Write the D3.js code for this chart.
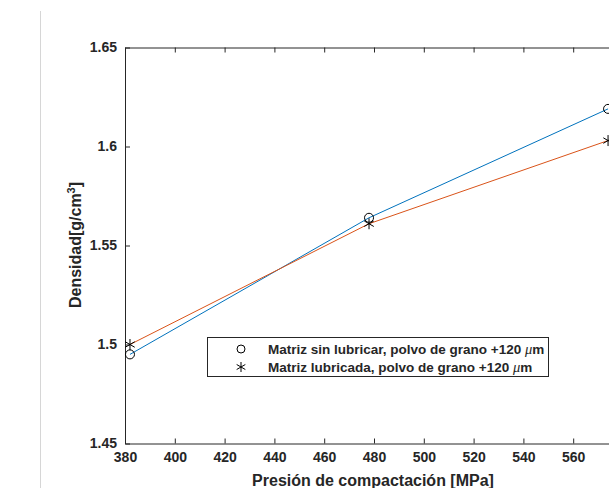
<!DOCTYPE html>
<html>
<head>
<meta charset="utf-8">
<script src="https://cdn.jsdelivr.net/npm/d3@7"></script>
<style>
  body { margin: 0; background: #fff; overflow: hidden; }
  svg { display: block; }
  text { font-family: "Liberation Sans", Arial, sans-serif; font-weight: bold; fill: #262626; }
</style>
</head>
<body>
<svg id="chart" width="609" height="488"></svg>
<script>
// pressures (MPa) and densities
const pressures = [382, 478, 574];
const densSinLub = [1.495, 1.564, 1.619];
const densLub = [1.500, 1.561, 1.603];
const xTicks = [380, 400, 420, 440, 460, 480, 500, 520, 540, 560];
const yTicks = [1.45, 1.5, 1.55, 1.6, 1.65];
const legendLabels = ["Matriz sin lubricar, polvo de grano +120 ", "Matriz lubricada, polvo de grano +120 "];

var svg = d3.select("#chart");

// the grey line at the left of the figure window
svg.append("line")
  .attr("x1", 40.5).attr("x2", 40.5)
  .attr("y1", 11).attr("y2", 488)
  .attr("stroke", "#d6d6d6");

// xlim runs to 580, which falls just past the right edge of the window
var x = d3.scaleLinear().domain([380, 580]).range([125, 623]);
var y = d3.scaleLinear().domain([1.45, 1.65]).range([443.5, 47.5]);

var axisColor = "#262626";

// bottom axis
var xAxis = svg.append("g")
  .attr("transform", "translate(0,443.5)")
  .call(d3.axisBottom(x).tickValues(xTicks).tickSizeInner(-5).tickSizeOuter(0).tickPadding(10).tickFormat(d3.format("d")));
// top axis (box)
var xTop = svg.append("g")
  .attr("transform", "translate(0,47.5)")
  .call(d3.axisTop(x).tickValues(xTicks).tickSizeInner(-5).tickSizeOuter(0).tickFormat(""));
// left axis
var yAxis = svg.append("g")
  .attr("transform", "translate(125,0)")
  .call(d3.axisLeft(y).tickValues(yTicks).tickSizeInner(-5).tickSizeOuter(0).tickPadding(8).tickFormat(d => d3.format("")(+d.toFixed(2))));

[xAxis, xTop, yAxis].forEach(g => {
  g.selectAll("path").attr("stroke", axisColor);
  g.selectAll("line").attr("stroke", axisColor);
  g.selectAll("text").style("font-size", "14px").attr("fill", axisColor)
    .style("font-family", "'Liberation Sans', Arial, sans-serif").style("font-weight", "bold");
});
xAxis.selectAll("text").attr("dy", "0.6em");

var line = d3.line().x((d, i) => x(pressures[i])).y(d => y(d));

svg.append("path").datum(densSinLub)
  .attr("d", line).attr("fill", "none").attr("stroke", "#0072BD").attr("stroke-width", 1);
svg.append("path").datum(densLub)
  .attr("d", line).attr("fill", "none").attr("stroke", "#D95319").attr("stroke-width", 1);

// markers
svg.selectAll(".circ").data(densSinLub).enter().append("circle")
  .attr("cx", (d, i) => x(pressures[i])).attr("cy", d => y(d))
  .attr("r", 4.5).attr("fill", "none").attr("stroke", "#000").attr("stroke-width", 1);

function star(g, cx, cy, r) {
  [0, 60, 120].forEach(a => {
    var rad = a * Math.PI / 180;
    g.append("line")
      .attr("x1", cx - r * Math.sin(rad)).attr("y1", cy - r * Math.cos(rad))
      .attr("x2", cx + r * Math.sin(rad)).attr("y2", cy + r * Math.cos(rad))
      .attr("stroke", "#000").attr("stroke-width", 1);
  });
}
var stars = svg.append("g");
densLub.forEach((d, i) => star(stars, x(pressures[i]), y(d), 5.5));

// axis labels
svg.append("text")
  .attr("x", 373).attr("y", 486)
  .attr("text-anchor", "middle")
  .style("font-size", "16px")
  .text("Presión de compactación [MPa]");

var yl = svg.append("text")
  .attr("transform", "translate(81,245) rotate(-90)")
  .attr("text-anchor", "middle")
  .style("font-size", "16px");
yl.append("tspan").text("Densidad[g/cm");
yl.append("tspan").attr("dy", -6).style("font-size", "11px").text("3");
yl.append("tspan").attr("dy", 6).text("]");

// legend
var leg = svg.append("g");
leg.append("rect")
  .attr("x", 207.5).attr("y", 337.5).attr("width", 341).attr("height", 39)
  .attr("fill", "#fff").attr("stroke", axisColor).attr("stroke-width", 1);
leg.append("circle").attr("cx", 241).attr("cy", 349).attr("r", 4)
  .attr("fill", "none").attr("stroke", "#000");
star(leg, 241, 367, 5);
legendLabels.forEach((t, i) => {
  var tx = leg.append("text")
    .attr("x", 268).attr("y", 354 + i * 18)
    .style("font-size", "13.5px")
    .text(t);
  tx.append("tspan").style("font-style", "italic").style("font-weight", "normal")
    .style("font-family", "'Liberation Serif', serif").style("font-size", "14.5px").text("μ");
  tx.append("tspan").text("m");
});
</script>
</body>
</html>
